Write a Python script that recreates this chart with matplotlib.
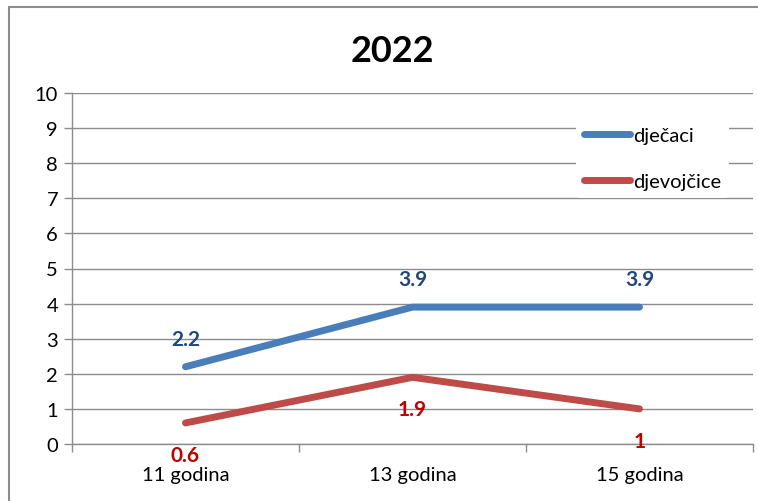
import matplotlib
matplotlib.use("Agg")
import matplotlib.pyplot as plt
from matplotlib.patches import Rectangle

categories = ["11 godina", "13 godina", "15 godina"]
djecaci = [2.2, 3.9, 3.9]
djevojcice = [0.6, 1.9, 1.0]
djevojcice_labels = ["0.6", "1.9", "1"]
djecaci_labels = ["2.2", "3.9", "3.9"]
title = "2022"

plt.rcParams["font.family"] = ["Lato", "DejaVu Sans"]

fig = plt.figure(figsize=(7.58, 5.02), dpi=100)
fig.patch.set_facecolor("white")

# outer chart frame
fig.add_artist(Rectangle((9 / 758, -0.2), 1.2, 1.2 - 8 / 502,
                         transform=fig.transFigure, fill=False,
                         edgecolor="#8c8c8c", linewidth=1.5))

ax = fig.add_axes([72 / 758, 1 - 445 / 502, (753 - 72) / 758, (445 - 94) / 502])
x = list(range(len(categories)))

ax.plot(x, djecaci, color="#4a7ebb", linewidth=5, solid_capstyle="round",
        label="dječaci", zorder=3)
ax.plot(x, djevojcice, color="#be4b48", linewidth=5, solid_capstyle="round",
        label="djevojčice", zorder=3)

for xi, v, t in zip(x, djecaci, djecaci_labels):
    ax.annotate(t, (xi, v), xytext=(0, 20), textcoords="offset points",
                ha="center", va="center", color="#1f497d", fontsize=15,
                fontweight="bold")
for xi, v, t in zip(x, djevojcice, djevojcice_labels):
    ax.annotate(t, (xi, v), xytext=(0, -23), textcoords="offset points",
                ha="center", va="center", color="#c00000", fontsize=15,
                fontweight="bold")

ax.set_xlim(-0.5, 2.5)
ax.set_ylim(0, 10)
ax.set_yticks(range(0, 11))
ax.set_xticks(x)
ax.set_xticklabels(categories)
ax.set_xticks([-0.5, 0.5, 1.5, 2.5], minor=True)
ax.tick_params(axis="x", which="major", length=0, pad=16, labelsize=14.5)
ax.tick_params(axis="x", which="minor", length=6, color="#8c8c8c", width=1)
ax.tick_params(axis="y", length=6, color="#8c8c8c", width=1, labelsize=14.5, pad=4)

ax.grid(axis="y", color="#8c8c8c", linewidth=1)
ax.set_axisbelow(True)
for side in ["top", "right"]:
    ax.spines[side].set_visible(False)
for side in ["left", "bottom"]:
    ax.spines[side].set_color("#8c8c8c")
    ax.spines[side].set_linewidth(1)

fig.text(392 / 758, 1 - 52 / 502, title, ha="center", va="center",
         fontsize=26, fontweight="bold")

leg = ax.legend(loc="upper left", bbox_to_anchor=(0.725, 0.955), frameon=True,
                fontsize=14.5, handlelength=2.3, handletextpad=0.15,
                labelspacing=1.45, borderpad=0.4)
leg.get_frame().set_facecolor("white")
leg.get_frame().set_edgecolor("none")
leg.get_frame().set_alpha(1)

fig.savefig("out.png", dpi=100)
